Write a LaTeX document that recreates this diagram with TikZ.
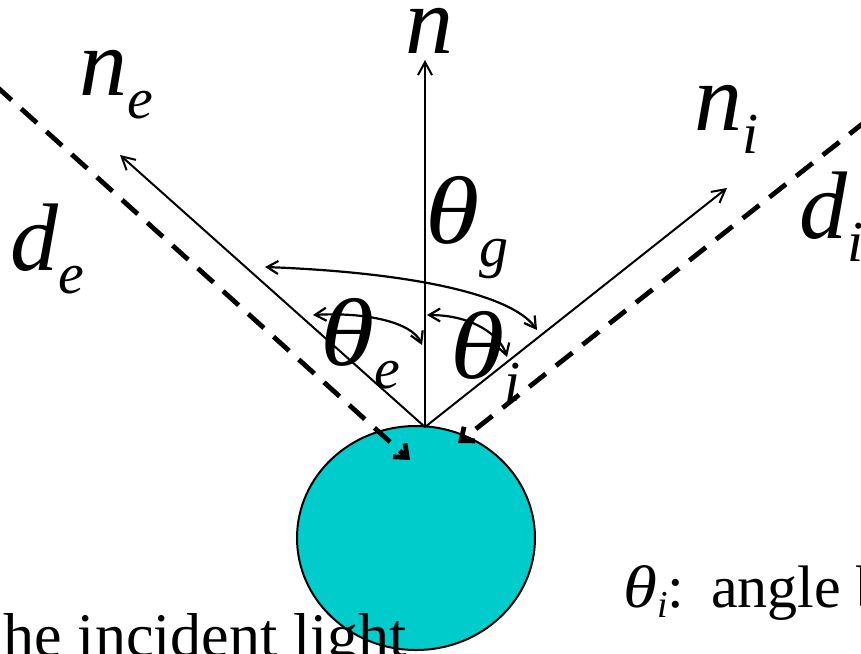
\documentclass[tikz,border=0pt]{standalone}
\usepackage{fontspec}
\setmainfont{Liberation Serif}
\usetikzlibrary{arrows.meta}
\definecolor{ballcyan}{RGB}{0,204,204}
\newcommand\thetaglyph{\scalebox{1.15}[1]{\textit{θ}}}
\newcommand\biglbl[2]{\fontsize{96}{96}\selectfont#1\raisebox{-0.24em}{\fontsize{58}{58}\selectfont\textit{#2}}}
\tikzset{
  normal/.style={line width=2pt,-{Straight Barb[length=13pt,width=14pt]}},
  lightray/.style={line width=4.8pt,dash pattern=on 21pt off 13pt,-{Straight Barb[length=11pt,width=18pt]}},
  anglearc/.style={line width=2.2pt,{Straight Barb[length=11pt,width=13pt]}-{Straight Barb[length=11pt,width=13pt]}},
  lbl/.style={anchor=base west,inner sep=0pt,outer sep=0pt},
  ball/.style={draw=black,line width=2pt,fill=ballcyan},
  caption/.style={anchor=base west,inner sep=0pt,font=\fontsize{62}{62}\selectfont}
}
\begin{document}
\begin{tikzpicture}[x=1pt,y=-1pt]
\useasboundingbox (0,0) rectangle (861,653);
\clip (0,0) rectangle (861,653);
% ball
\path[ball] (416,538) ellipse [x radius=119, y radius=112];
% point of reflection and ends
\coordinate (P) at (425,427);
\coordinate (nTip) at (425,60);
\coordinate (neTip) at (120,155);
\coordinate (niTip) at (727,188);
\coordinate (deStart) at (-4,86);
\coordinate (deTip) at (410,460);
\coordinate (diStart) at (866,121);
\coordinate (diTip) at (458,443);
% normals
\draw[normal] (P) -- (nTip);
\draw[normal] (P) -- (neTip);
\draw[normal] (P) -- (niTip);
% light directions
\draw[lightray] (deStart) -- (deTip);
\draw[lightray] (diStart) -- (diTip);
% angle arcs
\coordinate (gA) at (265,267);
\coordinate (gB) at (537,330);
\draw[anglearc] (gA) .. controls (400,272) and (510,292) .. (gB);
\coordinate (eA) at (313,315);
\coordinate (eB) at (422,345);
\draw[anglearc] (eA) .. controls (365,312) and (412,322) .. (eB);
\coordinate (iA) at (427,315);
\coordinate (iB) at (507,357);
\draw[anglearc] (iA) .. controls (472,315) and (500,335) .. (iB);
% labels
\node[lbl] (ln) at (405,53) {\biglbl{\textit{n}}{}};
\node[lbl] (lne) at (79,95) {\biglbl{\textit{n}}{e}};
\node[lbl] (lni) at (694,130) {\biglbl{\textit{n}}{i}};
\node[lbl] (lde) at (10,270) {\biglbl{\textit{d}}{e}};
\node[lbl] (ldi) at (799,238) {\biglbl{\textit{d}}{i}};
\node[lbl] (ltg) at (425,243) {\biglbl{\thetaglyph}{g}};
\node[lbl] (lte) at (320,365) {\biglbl{\thetaglyph}{e}};
\node[lbl] (lti) at (450,378) {\biglbl{\thetaglyph}{i}};
% captions
\node[caption,anchor=base east] (capL) at (407,656) {he incident light};
\node[caption,font=\fontsize{60}{60}\selectfont] (capR) at (623,607) {\thetaglyph\raisebox{-0.18em}{\fontsize{38}{38}\selectfont\textit{i}}:\hspace{0.45em}angle b};
\end{tikzpicture}
\end{document}
